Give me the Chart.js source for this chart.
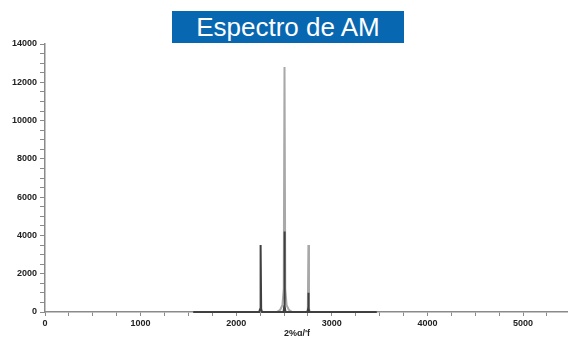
<!DOCTYPE html>
<html>
<head>
<meta charset="utf-8">
<script src="https://cdn.jsdelivr.net/npm/chart.js@4/dist/chart.umd.min.js"></script>
<style>
  html, body { margin: 0; padding: 0; background: #fff; }
  #wrap { position: relative; width: 568px; height: 339px; }
  #title {
    position: absolute; left: 172px; top: 11px; width: 232px; height: 32px;
    background: #0767b1; color: #fff; font-family: "Liberation Sans", Arial, sans-serif;
    font-size: 26px; line-height: 32px; text-align: center; white-space: nowrap;
  }
  canvas { position: absolute; left: 0; top: 0; }
</style>
</head>
<body>
<div id="wrap">
  <canvas id="c" width="568" height="339"></canvas>
  <div id="title">Espectro de AM</div>
</div>
<script>
// Dark trace (frequency, amplitude)
const darkFreq = [1550, 2240, 2249, 2255, 2261, 2270, 2495, 2502, 2505, 2508, 2515, 2747, 2753, 2755, 2757, 2763, 3470];
const darkAmp  = [0,    0,    150,  3500, 150,  0,    0,    300,  4200, 300,  0,    0,    200,  1000, 200,  0,    0];
// Light trace (frequency, amplitude)
const lightFreq = [1550, 2425, 2460, 2483, 2497, 2505, 2513, 2527, 2550, 2585, 2740, 2749, 2755, 2761, 2770, 3470];
const lightAmp  = [0,    0,    120,  350,  1200, 12800, 1200, 350, 120,  0,    0,    150,  3500, 150,  0,    0];
// Axes
const xTickLabels = [0, 1000, 2000, 3000, 4000, 5000];
const yTickLabels = [0, 2000, 4000, 6000, 8000, 10000, 12000, 14000];
const xAxisTitle = "2%\u0251/'f";

const toPts = (xs, ys) => xs.map((x, i) => ({ x: x, y: ys[i] }));
const isLabel = (list, v) => list.some(t => Math.abs(t - v) < 1e-6);

const axisTitlePlugin = {
  id: 'axisTitle',
  afterDraw(chart) {
    const ctx = chart.ctx;
    ctx.save();
    ctx.font = 'bold 9px "Liberation Sans", Arial, sans-serif';
    ctx.fillStyle = '#222';
    ctx.textAlign = 'center';
    ctx.textBaseline = 'middle';
    ctx.fillText(xAxisTitle, 297, 334);
    ctx.restore();
  }
};

new Chart(document.getElementById('c'), {
  type: 'scatter',
  data: {
    datasets: [
      { data: toPts(darkFreq, darkAmp), showLine: true, borderColor: '#404040', borderWidth: 2, pointRadius: 0, tension: 0, clip: false },
      { data: toPts(lightFreq, lightAmp), showLine: true, borderColor: '#a8a8a8', borderWidth: 2, pointRadius: 0, tension: 0, clip: false }
    ]
  },
  options: {
    responsive: false,
    animation: false,
    layout: { padding: { top: 44, right: 0, left: 0, bottom: 0 } },
    plugins: { legend: { display: false }, tooltip: { enabled: false }, title: { display: false } },
    scales: {
      x: {
        type: 'linear', min: 0, max: 5470,
        afterFit(s) { s.height = 27; },
        afterBuildTicks(s) {
          const t = [];
          for (let v = 0; v <= 5470; v += 250) t.push({ value: v });
          s.ticks = t;
        },
        border: { color: '#8a8a8a', width: 1.5 },
        grid: { drawOnChartArea: false, tickLength: 4, color: '#8a8a8a', lineWidth: 1 },
        ticks: {
          autoSkip: false, maxRotation: 0, minRotation: 0, padding: 2,
          color: '#222', font: { size: 9, weight: 'bold', family: '"Liberation Sans", Arial, sans-serif' },
          callback: v => isLabel(xTickLabels, v) ? String(Math.round(v)) : ''
        }
      },
      y: {
        type: 'linear', min: 0, max: 14000,
        afterFit(s) { s.width = 45; },
        border: { color: '#8a8a8a', width: 1.5 },
        grid: { drawOnChartArea: false, tickLength: 5, color: '#8a8a8a', lineWidth: 1 },
        ticks: {
          stepSize: 500, includeBounds: false, autoSkip: false, padding: 3,
          color: '#222', font: { size: 9, weight: 'bold', family: '"Liberation Sans", Arial, sans-serif' },
          callback: v => isLabel(yTickLabels, v) ? String(Math.round(v)) : ''
        }
      }
    }
  },
  plugins: [axisTitlePlugin]
});
</script>
</body>
</html>
